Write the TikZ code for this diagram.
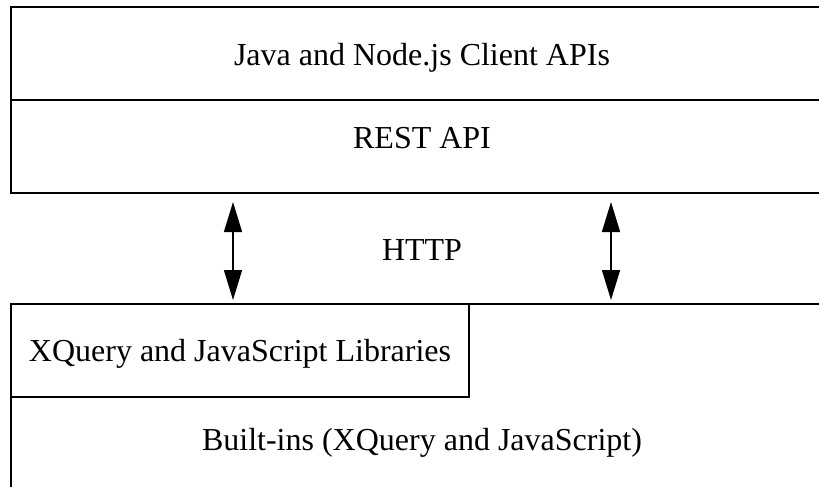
\documentclass[tikz,border=0pt]{standalone}
\usepackage{fontspec}
\setmainfont{Liberation Serif}
\usetikzlibrary{positioning}
\usetikzlibrary{arrows.meta}
\tikzset{%
  layer/.style = {rectangle,draw,line width=1.6pt,inner sep=0pt,
        outer sep=0pt,text height=21pt,text depth=0pt,
        font=\fontsize{32}{38}\selectfont},
  httparrow/.style = {{Triangle[length=30pt,width=18pt]}-{Triangle[length=30pt,width=18pt]},
        line width=1.5pt},
  lbl/.style = {inner sep=0pt,text height=21pt,text depth=0pt,
        font=\fontsize{32}{38}\selectfont}
}

\begin{document}
\begin{tikzpicture}[x=1pt,y=-1pt]
\useasboundingbox (0,0) rectangle (819,487);
\clip (0,0) rectangle (819,487);
% client side
\node[layer,minimum width=822pt,minimum height=93pt,anchor=north west,
    text height=24pt] (client) at (11,7) {Java and Node.js Client APIs};
\node[layer,minimum width=822pt,minimum height=93pt,below=0pt of client,
    text depth=17pt] (rest) {REST API};
% server side
\node[layer,minimum width=822pt,minimum height=272pt,anchor=north west] (builtins) at (11,304) {Built-ins (XQuery and JavaScript)};
\node[layer,minimum width=458pt,minimum height=93pt,anchor=north west] (libs) at (builtins.north west) {XQuery and JavaScript Libraries};
% HTTP
\node[lbl] (http) at (422,250) {HTTP};
\draw[httparrow] ([xshift=222pt,yshift=-9pt]rest.south west) -- ([xshift=222pt,yshift=4pt]builtins.north west);
\draw[httparrow] ([xshift=600pt,yshift=-9pt]rest.south west) -- ([xshift=600pt,yshift=4pt]builtins.north west);
\end{tikzpicture}
\end{document}
